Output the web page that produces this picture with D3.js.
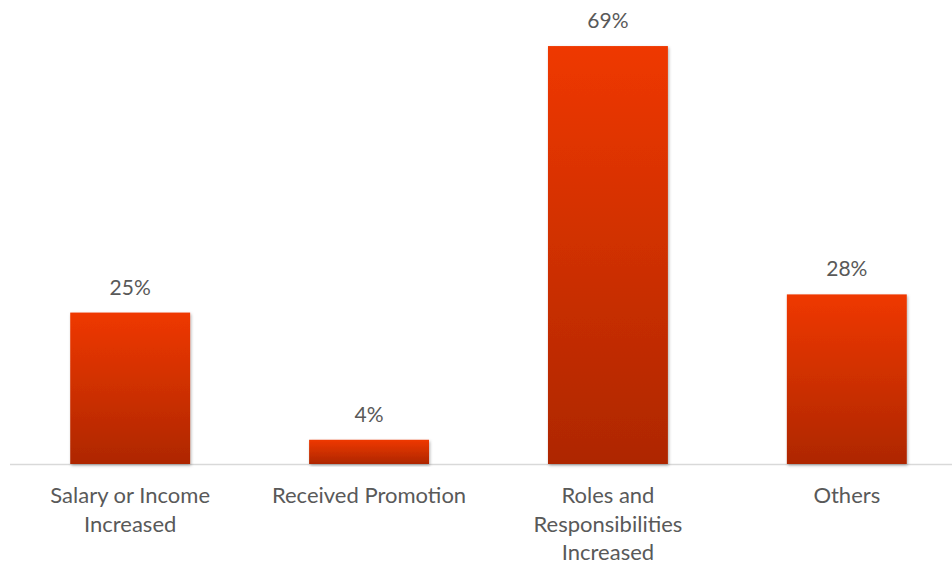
<!DOCTYPE html>
<html>
<head>
<meta charset="utf-8">
<script src="https://cdn.jsdelivr.net/npm/d3@7"></script>
<style>
  html, body { margin: 0; padding: 0; background: #ffffff; }
  svg { display: block; }
</style>
</head>
<body>
<svg id="chart" width="952" height="565"></svg>
<script>
// Share of respondents by type of change
const categories = ["Salary or Income Increased", "Received Promotion", "Roles and Responsibilities Increased", "Others"];
const values = [25, 4, 69, 28];
const valueLabels = ["25%", "4%", "69%", "28%"];

const width = 952, height = 565;
const baseline = 464;
const svg = d3.select("#chart");
const font = "Lato, 'Open Sans', sans-serif";

const x = d3.scaleBand()
  .domain(categories)
  .range([10.5, 966.5])
  .paddingInner(0.498)
  .paddingOuter(0.25);

const y = d3.scaleLinear()
  .domain([0, 70])
  .range([baseline, 40]);

const defs = svg.append("defs");
const grad = defs.append("linearGradient")
  .attr("id", "barFill")
  .attr("x1", 0).attr("y1", 0).attr("x2", 0).attr("y2", 1);
grad.append("stop").attr("offset", "0%").attr("stop-color", "#ef3800");
grad.append("stop").attr("offset", "100%").attr("stop-color", "#ae2700");

const shadow = defs.append("filter")
  .attr("id", "barShadow")
  .attr("x", "-10%").attr("y", "-10%").attr("width", "120%").attr("height", "120%");
shadow.append("feDropShadow")
  .attr("dx", 1).attr("dy", 1.5)
  .attr("stdDeviation", 1.5)
  .attr("flood-color", "#000")
  .attr("flood-opacity", 0.3);

// baseline
svg.append("line")
  .attr("x1", 10).attr("x2", width)
  .attr("y1", baseline + 0.5).attr("y2", baseline + 0.5)
  .attr("stroke", "#d9d9d9").attr("stroke-width", 1.3);

// bars
svg.append("g").selectAll("rect")
  .data(values)
  .join("rect")
  .attr("x", (d, i) => x(categories[i]))
  .attr("width", x.bandwidth())
  .attr("y", d => y(d))
  .attr("height", d => y(0) - y(d))
  .attr("fill", "url(#barFill)")
  .attr("filter", "url(#barShadow)");

// value labels
svg.append("g").selectAll("text")
  .data(values)
  .join("text")
  .attr("x", (d, i) => x(categories[i]) + x.bandwidth() / 2)
  .attr("y", d => y(d) - 18)
  .attr("text-anchor", "middle")
  .attr("font-family", font)
  .attr("font-size", 21)
  .attr("fill", "#595959")
  .text((d, i) => valueLabels[i]);

// category labels, wrapped to a fixed width
const maxWidth = 205;
const lineHeight = 28.5;
const catG = svg.append("g");
categories.forEach(cat => {
  const cx = x(cat) + x.bandwidth() / 2;
  const t = catG.append("text")
    .attr("x", cx)
    .attr("y", 503)
    .attr("text-anchor", "middle")
    .attr("font-family", font)
    .attr("font-size", 22)
    .attr("fill", "#595959");
  const words = cat.split(" ");
  let line = [];
  let tspan = t.append("tspan").attr("x", cx).attr("dy", 0);
  words.forEach(w => {
    line.push(w);
    tspan.text(line.join(" "));
    if (tspan.node().getComputedTextLength() > maxWidth && line.length > 1) {
      line.pop();
      tspan.text(line.join(" "));
      line = [w];
      tspan = t.append("tspan")
        .attr("x", cx)
        .attr("dy", lineHeight)
        .text(w);
    }
  });
});
</script>
</body>
</html>
